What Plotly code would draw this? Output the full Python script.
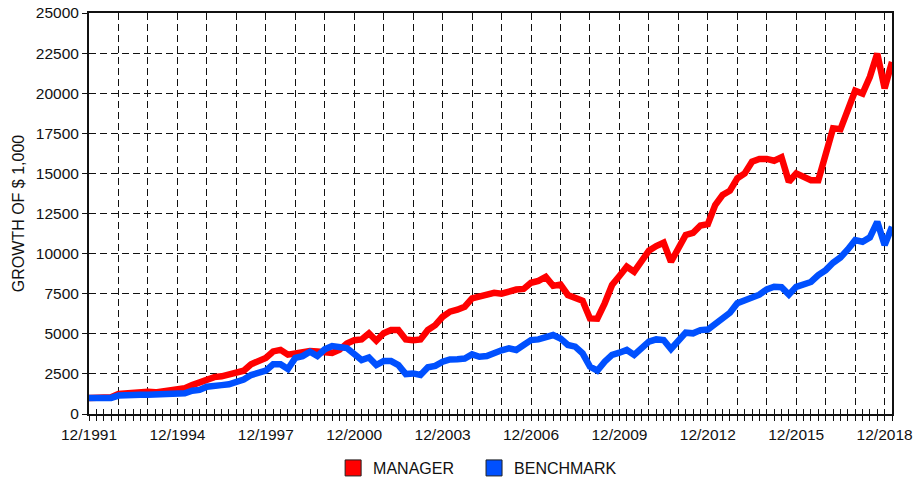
import plotly.graph_objects as go

# quarterly growth of $1,000, 12/1991 .. 3/2019
manager = [1000, 1000, 1000, 1050, 1250, 1300, 1320, 1420, 1380, 1350,
           1420, 1450, 1480, 1600, 1800, 2000, 2200, 2300, 2350, 2500,
           2650, 2700, 3100, 3300, 3500, 3900, 4000, 3700, 3800, 3800,
           3920, 3900, 3900, 3800, 4000, 4400, 4600, 4650, 5030, 4570,
           5030, 5240, 5240, 4650, 4600, 4650, 5240, 5540, 6060, 6380,
           6500, 6690, 7210, 7300, 7420, 7560, 7500, 7640, 7760, 7800,
           8180, 8300, 8550, 7990, 8070, 7420, 7280, 7060, 5960, 5940,
           6900, 8040, 8600, 9180, 8870, 9490, 10180, 10470, 10680, 9490,
           10330, 11160, 11300, 11750, 11840, 13030, 13650, 13920, 14690, 15000,
           15730, 15900, 15900, 15790, 16000, 14480, 15000, 14750, 14580, 14580,
           16250, 17810, 17750, 18950, 20150, 19980, 21020, 22470, 20300, 21950]

benchmark = [1000, 1000, 1000, 1000, 1150, 1200, 1200, 1200, 1200, 1200,
             1200, 1200, 1200, 1290, 1450, 1500, 1700, 1800, 1800, 1850,
             2010, 2150, 2430, 2560, 2700, 3100, 3100, 2800, 3500, 3610,
             3880, 3610, 4030, 4240, 4160, 4110, 3740, 3360, 3520, 3050,
             3300, 3300, 3050, 2490, 2530, 2430, 2910, 3000, 3260, 3400,
             3420, 3460, 3720, 3570, 3610, 3820, 3970, 4090, 3990, 4300,
             4610, 4650, 4780, 4920, 4710, 4300, 4200, 3780, 2950, 2700,
             3260, 3680, 3820, 3990, 3680, 4090, 4510, 4650, 4610, 4050,
             4510, 5070, 5030, 5230, 5270, 5650, 5960, 6310, 6900, 7100,
             7350, 7440, 7770, 7930, 7900, 7440, 7930, 8100, 8230, 8660,
             8970, 9430, 9760, 10260, 10840, 10740, 11010, 11980, 10530, 11670]

tick_labels = ["12/1991", "12/1994", "12/1997", "12/2000", "12/2003",
               "12/2006", "12/2009", "12/2012", "12/2015", "12/2018"]

quarters = list(range(len(manager)))
year_ticks = list(range(0, len(manager), 4))  # one dashed line per year
year_text = [tick_labels[i // 3] if i % 3 == 0 else "" for i in range(len(year_ticks))]

FONT = "Liberation Sans, Arial, sans-serif"
RED = "#ff0000"
BLUE = "#0050ff"

fig = go.Figure()

fig.add_trace(go.Scatter(x=quarters, y=manager, mode="lines", name="MANAGER",
                         line=dict(color=RED, width=6.5), showlegend=False))
fig.add_trace(go.Scatter(x=quarters, y=benchmark, mode="lines", name="BENCHMARK",
                         line=dict(color=BLUE, width=6.5), showlegend=False))

# legend squares, one legend each so they can be placed like the original
for name, col, leg in [("MANAGER", RED, "legend"), ("BENCHMARK", BLUE, "legend2")]:
    fig.add_trace(go.Scatter(x=[None], y=[None], mode="markers", name=name, legend=leg,
                             marker=dict(symbol="square", size=16, color=col,
                                         line=dict(color="#222", width=1))))

# overlay axis only for the inside half of the crossing tick marks
fig.add_trace(go.Scatter(x=[0, quarters[-1]], y=[None, None], xaxis="x2",
                         showlegend=False, hoverinfo="skip"))

leg_common = dict(orientation="h", xanchor="left", yref="container", y=0.031,
                  yanchor="middle", font=dict(size=16), itemsizing="trace")

fig.update_layout(
    width=917, height=483,
    margin=dict(l=89, r=25, t=13, b=69),
    paper_bgcolor="white", plot_bgcolor="white",
    font=dict(family=FONT, size=15, color="#111"),
    showlegend=True,
    legend=dict(x=0.304, **leg_common),
    legend2=dict(x=0.4795, **leg_common),
    xaxis=dict(range=[0, quarters[-1]], tickmode="array", tickvals=year_ticks,
               ticktext=year_text, ticks="outside", ticklen=5, tickcolor="#111",
               showgrid=True, gridcolor="#111", gridwidth=1, griddash="7px,4px",
               showline=True, linecolor="#111", linewidth=2, mirror=True,
               minor=dict(tick0=0, dtick=1, ticks="outside", ticklen=5, tickcolor="#111"),
               zeroline=False, tickfont=dict(size=15.5), automargin=False,
               ticklabeloverflow="allow"),
    xaxis2=dict(overlaying="x", range=[0, quarters[-1]], side="bottom",
                tickmode="linear", tick0=0, dtick=1, ticks="inside", ticklen=5,
                tickcolor="#111", showticklabels=False, showgrid=False,
                showline=False, zeroline=False, automargin=False),
    yaxis=dict(range=[0, 25000], dtick=2500, tickformat="d", ticks="outside",
               ticklen=5, tickcolor="#111",
               showgrid=True, gridcolor="#111", gridwidth=1, griddash="7px,4px",
               showline=True, linecolor="#111", linewidth=2, mirror=True,
               zeroline=False, tickfont=dict(size=15.5), automargin=False,
               ticklabeloverflow="allow",
               title=dict(text="GROWTH OF $ 1,000", font=dict(size=16), standoff=7)),
)

# drop the default 8px body margin so the figure fills the window exactly
fig.write_html("out.html", config={"displayModeBar": False},
               post_script="document.body.style.margin='0';")
